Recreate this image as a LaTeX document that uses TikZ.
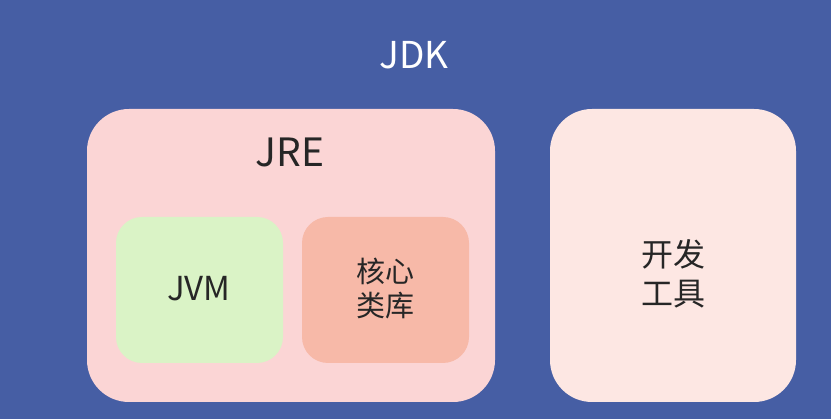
\documentclass[tikz,border=0pt]{standalone}
\usepackage{fontspec}
\setmainfont{Noto Sans CJK SC}
\definecolor{bgblue}{RGB}{70,94,164}
\definecolor{jrefill}{RGB}{251,213,213}
\definecolor{jvmfill}{RGB}{218,243,198}
\definecolor{libfill}{RGB}{247,185,168}
\definecolor{toolfill}{RGB}{253,231,227}
\definecolor{txt}{RGB}{38,38,38}
\tikzset{
  box/.style={draw=none, rounded corners=#1, inner sep=0pt},
  lbl/.style={text=txt, inner sep=0pt, align=center},
}
\begin{document}
\begin{tikzpicture}[x=1pt,y=-1pt]
\fill[bgblue] (0,0) rectangle (831,419);
\useasboundingbox (0,0) rectangle (831,419);
\node[box=42pt, fill=jrefill, minimum width=408pt, minimum height=293pt] (jre) at (291,255.5) {};
\node[box=26pt, fill=jvmfill, minimum width=167pt, minimum height=146pt] (jvm) at (199.5,290) {};
\node[box=26pt, fill=libfill, minimum width=167pt, minimum height=146pt] (lib) at (385.5,290) {};
\node[box=42pt, fill=toolfill, minimum width=246pt, minimum height=293pt] (tools) at (673,255.5) {};
\node[lbl, text=white, anchor=base, font=\fontsize{37}{44}\selectfont] (jdkt) at (414,68.5) {JDK};
\node[lbl, anchor=base, font=\fontsize{39}{46}\selectfont] (jret) at (290,167) {JRE};
\node[lbl, anchor=base, font=\fontsize{33}{40}\selectfont] (jvmt) at (199,300.5) {JVM};
\node[lbl, font=\fontsize{29}{34}\selectfont] (libt) at (385,288.5) {核心\\类库};
\node[lbl, font=\fontsize{32}{39}\selectfont] (toolt) at (673,274) {开发\\工具};
\end{tikzpicture}
\end{document}
